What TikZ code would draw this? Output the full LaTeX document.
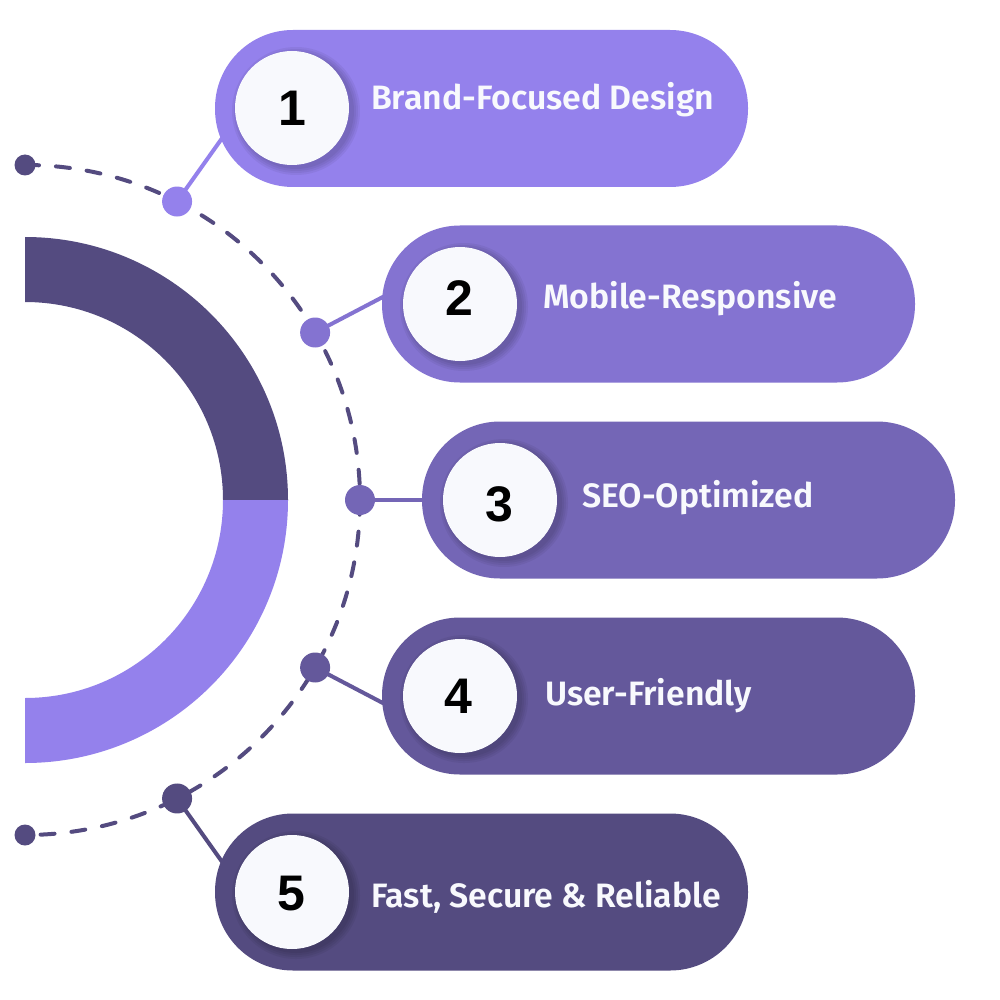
\documentclass[tikz,border=0pt]{standalone}
\usepackage{fontspec}
\newfontfamily\labfont{Fira Sans SemiBold}
\newfontfamily\numfont{Liberation Sans}
\usetikzlibrary{calc}
\definecolor{cA}{HTML}{9481EC}
\definecolor{cB}{HTML}{8473D1}
\definecolor{cC}{HTML}{7466B6}
\definecolor{cD}{HTML}{64589B}
\definecolor{cE}{HTML}{544B80}
\definecolor{disc}{HTML}{F8F9FD}
\begin{document}
\begin{tikzpicture}[x=1pt,y=-1pt,
  pill/.style={rectangle, rounded corners=78pt, minimum width=533pt, minimum height=157pt, inner sep=0pt},
  dotnode/.style={circle, inner sep=0pt, minimum size=30pt},
  enddot/.style={circle, inner sep=0pt, minimum size=21pt, fill=cE},
  disknode/.style={circle, inner sep=0pt, minimum size=114pt, fill=disc},
  conn/.style={line width=4pt},
  lab/.style={text=disc, inner sep=0pt, anchor=base west, font=\labfont\fontsize{33.8}{37}\selectfont},
  num/.style={text=black, inner sep=0pt, anchor=base, font=\numfont\bfseries\fontsize{50}{51}\selectfont}]
\useasboundingbox (0,0) rectangle (1000,1000);
\fill[white] (0,0) rectangle (1000,1000);
\coordinate (C) at (25,500);
% half ring
\fill[cE] (25,237) arc[start angle=-90, end angle=0, radius=263] -- (223,500) arc[start angle=0, end angle=-90, radius=198] -- cycle;
\fill[cA] (25,763) arc[start angle=90, end angle=0, radius=263] -- (223,500) arc[start angle=0, end angle=90, radius=198] -- cycle;
% dashed arc
\draw[cE, line width=4pt, line cap=round, dash pattern=on 14pt off 17pt] (25,165) arc[start angle=-90, end angle=90, radius=335];
\node[enddot] (e1) at (25,165) {};
\node[enddot] (e2) at (25,835) {};
% dots
\node[dotnode, fill=cA] (d1) at ($(C)+(-63:335)$) {};
\node[dotnode, fill=cB] (d2) at ($(C)+(-30:335)$) {};
\node[dotnode, fill=cC] (d3) at ($(C)+(0:335)$) {};
\node[dotnode, fill=cD] (d4) at ($(C)+(30:335)$) {};
\node[dotnode, fill=cE] (d5) at ($(C)+(63:335)$) {};
\coordinate (k1) at (235,120);
\coordinate (k2) at (400,288);
\coordinate (k3) at (440,500);
\coordinate (k4) at (400,712);
\coordinate (k5) at (235,880);
\draw[conn, cA] (d1.center) -- (k1);
\draw[conn, cB] (d2.center) -- (k2);
\draw[conn, cC] (d3.center) -- (k3);
\draw[conn, cD] (d4.center) -- (k4);
\draw[conn, cE] (d5.center) -- (k5);
% pills
\node[pill, fill=cA] (p1) at (481.5,108.5) {};
\node[pill, fill=cB] (p2) at (648.5,304) {};
\node[pill, fill=cC] (p3) at (688.5,500) {};
\node[pill, fill=cD] (p4) at (648.5,696) {};
\node[pill, fill=cE] (p5) at (481.5,892) {};
% shadows and discs
\foreach \cx/\cy in {292/108, 460/304, 500/500, 460/696, 292/892}{
  \foreach \r in {58,60,62,64}{
    \fill[black, opacity=0.05] (\cx+4,\cy+3) circle[radius=\r];
  }
}
\node[disknode] (c1) at (292,108) {};
\node[disknode] (c2) at (460,304) {};
\node[disknode] (c3) at (500,500) {};
\node[disknode] (c4) at (460,696) {};
\node[disknode] (c5) at (292,892) {};
% numbers
\node[num] (n1) at (292,126) {1};
\node[num] (n2) at (459,315) {2};
\node[num] (n3) at (499,521) {3};
\node[num] (n4) at (458,713) {4};
\node[num] (n5) at (291,910) {5};
% labels
\node[lab] (t1) at (371,110) {Brand-Focused Design};
\node[lab] (t2) at (543,308) {Mobile-Responsive};
\node[lab] (t3) at (582,507) {SEO-Optimized};
\node[lab] (t4) at (545,705) {User-Friendly};
\node[lab] (t5) at (371,907) {Fast, Secure \& Reliable};
\end{tikzpicture}
\end{document}
